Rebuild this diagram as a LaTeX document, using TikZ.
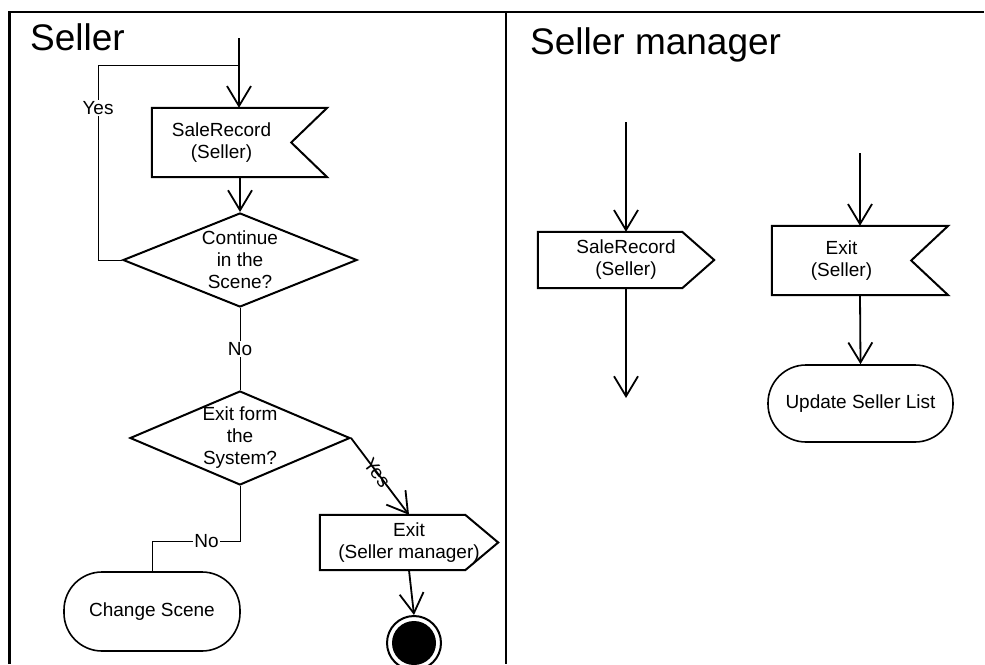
\documentclass[tikz,border=0pt]{standalone}
\usepackage{fontspec}
\setmainfont{Liberation Sans}
\usetikzlibrary{arrows.meta,shapes.geometric,calc}
\begin{document}
\begin{tikzpicture}[x=1pt,y=-1pt,
  txt/.style={font=\fontsize{19}{22}\selectfont, align=center},
  lanetitle/.style={font=\fontsize{37}{44}\selectfont, anchor=base west, inner sep=0},
  lane/.style={line width=2.4pt},
  flow/.style={line width=1.8pt, -{Straight Barb[length=20pt,width=24pt]}},
  thinline/.style={line width=1pt},
  decision/.style={diamond, draw, line width=2pt, inner sep=0, minimum width=#1, minimum height=94pt},
  sigbox/.style={rectangle, inner sep=0, txt},
  outline/.style={line width=2pt, line join=miter},
  activity/.style={rectangle, draw, line width=1.6pt, rounded corners=38pt, txt},
  guard/.style={txt, fill=white, inner sep=1pt},
]
\useasboundingbox (0,0) rectangle (985,664);

% swimlane frame
\draw[lane] (9.5,664) -- (9.5,12) -- (984,12);
\draw[lane] (506,12) -- (506,664);
\node[lanetitle] (t1) at (30,50) {Seller};
\node[lanetitle] (t2) at (530,54) {Seller manager};

% ---------------- Seller lane ----------------
\coordinate (s0) at (239,38);
\coordinate (j) at (239,65);

% receive signal SaleRecord (body node, notch drawn to the right)
\node[sigbox, minimum width=139pt, minimum height=69pt] (sr1) at (221.5,142.5) {SaleRecord\\(Seller)};
\draw[outline] (sr1.north west) -- ($(sr1.north east)+(36,0)$) -- (sr1.east)
  -- ($(sr1.south east)+(36,0)$) -- (sr1.south west) -- cycle;

\node[decision=234pt] (d1) at (240,260) {};
\node[txt] (d1t) at (d1) {Continue\\in the\\Scene?};
\node[decision=220pt] (d2) at (240,438) {};
\node[txt] (d2t) at (d2) {Exit form\\the\\System?};

% send signal Exit (Seller manager)
\node[sigbox, minimum width=178pt, minimum height=55pt] (ex1) at (409,542.5) {Exit\\(Seller manager)};
\draw[outline] (ex1.north west) -- ($(ex1.north east)+(-33,0)$) -- (ex1.east)
  -- ($(ex1.south east)+(-33,0)$) -- (ex1.south west) -- cycle;

\node[activity, minimum width=176pt, minimum height=79pt] (cs) at (152,611.5) {Change Scene};

% final node
\node[circle, draw, line width=2pt, minimum size=54pt, inner sep=0,
  path picture={\fill (path picture bounding box.center) circle (22pt);}] (fin) at (414,643) {};

% Seller connectors
\draw[flow] (s0) -- (s0 |- sr1.north);
\draw[flow] (d1.north |- sr1.south) -- (d1.north);
\draw[thinline] (d1.west) -- ++(-24,0) |- node[pos=0.39, guard] {Yes} (j);
\draw[thinline] (d1.south) -- node[guard] {No} (d2.north);
\draw[flow] (d2.east) -- node[txt, sloped, pos=0.45, inner sep=0] {Yes} (ex1.north);
\draw[thinline] (d2.south) -- ++(0,55) -| node[pos=0.19, guard] {No} (cs.north);
\draw[flow] (ex1.south) -- (fin.north);

% ---------------- Seller manager lane ----------------
\coordinate (m0) at (626,122);
\coordinate (m1) at (626,398);
\node[sigbox, minimum width=176pt, minimum height=56pt] (ssr) at (626,260) {SaleRecord\\(Seller)};
\draw[outline] (ssr.north west) -- ($(ssr.north east)+(-32,0)$) -- (ssr.east)
  -- ($(ssr.south east)+(-32,0)$) -- (ssr.south west) -- cycle;
\draw[flow] (m0) -- (ssr.north);
\draw[flow] (ssr.south) -- (m1);

\coordinate (e0) at (860,153);
\node[sigbox, minimum width=139pt, minimum height=69pt] (ex2) at (841.5,260.5) {Exit\\(Seller)};
\draw[outline] (ex2.north west) -- ($(ex2.north east)+(37,0)$) -- (ex2.east)
  -- ($(ex2.south east)+(37,0)$) -- (ex2.south west) -- cycle;
\node[activity, minimum width=185pt, minimum height=77pt] (usl) at (860.5,403.5) {Update Seller List};
\draw[flow] (e0) -- (e0 |- ex2.north);
\draw[flow] (e0 |- ex2.south) -- (usl.north);
\end{tikzpicture}
\end{document}
